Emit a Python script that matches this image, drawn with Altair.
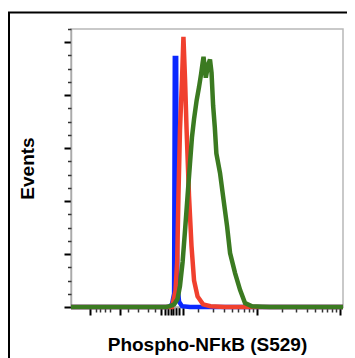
import altair as alt
import pandas as pd

# ---- data (fluorescence intensity vs events, % of max) ----
blue_x = [5.9, 86, 91, 96, 102, 104, 108, 109, 112, 117, 127, 158, 10865]
blue_y = [0, 0, 0.3, 1, 5, 94, 94, 40, 8, 2, 0.3, 0, 0]

red_x = [5.9, 96, 106, 111, 115, 120, 127, 132, 138, 144, 154, 165, 177, 195, 227, 279, 417, 10865]
red_y = [0, 0, 6, 17, 42, 67, 86, 102, 86, 67, 42, 23, 10, 4, 1, 0.3, 0, 0]

green_x = [5.9, 82, 91, 102, 112, 120, 129, 138, 148, 158, 167, 177, 190, 203, 215, 224,
           230, 245, 261, 275, 287, 300, 314, 328, 363, 400, 441, 479, 550, 631, 724, 879,
           1159, 1445, 10865]
green_y = [0, 0, 0.3, 1, 3, 8, 17, 29, 42, 54, 64, 71, 78, 83, 88, 92,
           94.5, 86.6, 91.5, 93.5, 88.5, 76, 68, 58, 50.6, 40.5, 30.5, 20.4, 12.8, 6.5, 1.5, 0.3,
           0.1, 0, 0]

series_colors = ["#0a28ff", "#f0402e", "#3b7a21"]

x_major_ticks = [10, 22.9, 71, 79, 86, 94, 100, 108, 117, 129, 1000, 10000]
x_minor_ticks = [11.7, 13.2, 15.1, 17.4, 28.8, 37.4, 50.1, 60,
                 200, 300, 400, 500, 600, 700, 800, 900,
                 2000, 3000, 4000, 5000, 6000, 7000, 8000, 9000]
y_major_ticks = [0, 20, 40, 60, 80, 100]
y_minor_ticks = [5, 10, 15, 25, 30, 35, 45, 50, 55, 65, 70, 75, 85, 90, 95, 105]
x_domain = [5.9, 10865]
y_domain = [0, 105]
x_title = "Phospho-NFkB (S529)"
y_title = "Events"

FONT = "Liberation Sans"

xscale = alt.Scale(type="log", domain=x_domain, nice=False)
yscale = alt.Scale(domain=y_domain, nice=False, zero=False)

x_major_axis = alt.Axis(values=x_major_ticks, labels=False, tickSize=8, tickWidth=2,
                        tickColor="black", domain=True, domainColor="#aaaaaa", domainWidth=1.5,
                        grid=False, orient="bottom", title=x_title, titleFont=FONT,
                        titleFontSize=19, titleFontWeight="bold", titleColor="black",
                        titleY=43, titleBaseline="alphabetic")
x_minor_axis = alt.Axis(values=x_minor_ticks, labels=False, tickSize=5, tickWidth=1.5,
                        tickColor="#333333", domain=False, grid=False, orient="bottom", title="")
y_major_axis = alt.Axis(values=y_major_ticks, labels=False, tickSize=7, tickWidth=2,
                        tickColor="black", domain=True, domainColor="#aaaaaa", domainWidth=1.5,
                        grid=False, orient="left", title=y_title, titleFont=FONT,
                        titleFontSize=19, titleFontWeight="bold", titleColor="black",
                        titleX=-38, titleY=139, titleAngle=270, titleAlign="center",
                        titleBaseline="alphabetic")
y_minor_axis = alt.Axis(values=y_minor_ticks, labels=False, tickSize=3.5, tickWidth=1.5,
                        tickColor="#333333", domain=False, grid=False, orient="left", title="")


def line_layer(xs, ys, color, x_axis, y_axis):
    df = pd.DataFrame({"x": xs, "y": ys})
    return alt.Chart(df).mark_line(color=color, strokeWidth=4.5, strokeJoin="miter").encode(
        x=alt.X("x:Q", scale=xscale, axis=x_axis),
        y=alt.Y("y:Q", scale=yscale, axis=y_axis),
    )


frame = alt.Chart(pd.DataFrame({"a": [0]})).mark_rect(
    fill="transparent", stroke="black", strokeWidth=2
).encode(x=alt.value(-62), x2=alt.value(600), y=alt.value(-16.5), y2=alt.value(600))

blue = line_layer(blue_x, blue_y, series_colors[0], x_major_axis, y_major_axis)
red = line_layer(red_x, red_y, series_colors[1], x_minor_axis, y_minor_axis)
green = line_layer(green_x, green_y, series_colors[2], None, None)

chart = alt.layer(frame, blue, red, green).resolve_axis(
    x="independent", y="independent"
).properties(
    width=272, height=278,
    autosize=alt.AutoSizeParams(type="none"),
    padding={"left": 63, "top": 21, "right": 4, "bottom": 51},
).configure_view(stroke="#b8b8b8", strokeWidth=1.5)

chart.save("out.html", embed_options={"renderer": "svg", "actions": False})
